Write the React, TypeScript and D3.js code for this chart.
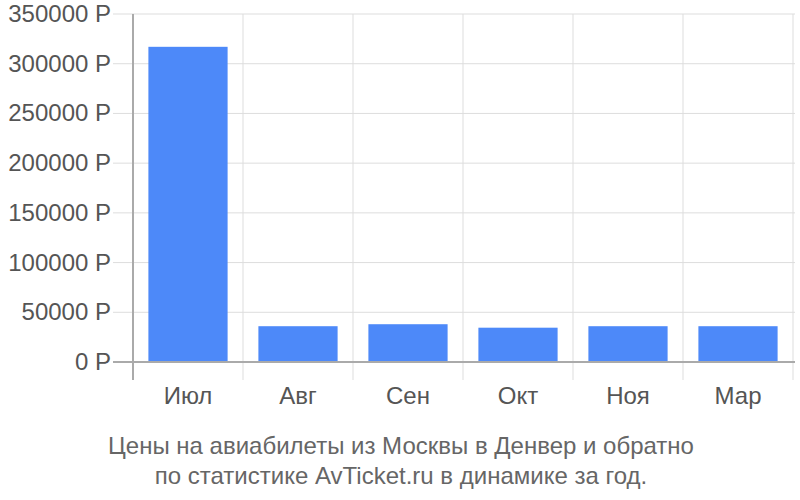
import React, { useEffect, useRef } from 'react';
import * as d3 from 'd3';

const months: string[] = ['Июл', 'Авг', 'Сен', 'Окт', 'Ноя', 'Мар'];
const prices: number[] = [317000, 36000, 38000, 34500, 36000, 36000];
const yTicks: number[] = [0, 50000, 100000, 150000, 200000, 250000, 300000, 350000];
const titleLines: string[] = [
  'Цены на авиабилеты из Москвы в Денвер и обратно',
  'по статистике AvTicket.ru в динамике за год.',
];

const App: React.FC = () => {
  const chartRef = useRef<SVGSVGElement | null>(null);

  useEffect(() => {
    if (!chartRef.current) return;
    const W = 800;
    const H = 500;
    const left = 133;
    const right = 793;
    const top = 14;
    const bottom = 362;
    const font = '"Liberation Sans", Arial, sans-serif';

    const svg = d3.select(chartRef.current);
    svg.selectAll('*').remove();
    svg.attr('width', W).attr('height', H);

    const x = d3.scaleBand<string>().domain(months).range([left, right]).paddingInner(0.28).paddingOuter(0.14);
    const xCat = d3.scaleBand<string>().domain(months).range([left, right]);
    const y = d3.scaleLinear().domain([0, 350000]).range([bottom, top]);

    // horizontal grid
    svg
      .append('g')
      .selectAll('line')
      .data(yTicks.filter((t) => t > 0))
      .enter()
      .append('line')
      .attr('x1', left - 20)
      .attr('x2', 795)
      .attr('y1', (d) => y(d))
      .attr('y2', (d) => y(d))
      .attr('stroke', '#dddddd')
      .attr('stroke-width', 1);

    // vertical grid
    svg
      .append('g')
      .selectAll('line')
      .data(months.slice(1).map((m) => xCat(m) || 0).concat([right]))
      .enter()
      .append('line')
      .attr('x1', (d) => d)
      .attr('x2', (d) => d)
      .attr('y1', top)
      .attr('y2', 380)
      .attr('stroke', '#dddddd')
      .attr('stroke-width', 1);

    // bars
    svg
      .append('g')
      .selectAll('rect')
      .data(months)
      .enter()
      .append('rect')
      .attr('x', (d) => x(d) || 0)
      .attr('width', x.bandwidth())
      .attr('y', (d, i) => y(prices[i]))
      .attr('height', (d, i) => y(0) - y(prices[i]))
      .attr('fill', '#4d89f9');

    // zero line and left axis
    svg
      .append('line')
      .attr('x1', left - 20)
      .attr('x2', 795)
      .attr('y1', y(0))
      .attr('y2', y(0))
      .attr('stroke', '#aaaaaa')
      .attr('stroke-width', 2);
    svg
      .append('line')
      .attr('x1', left)
      .attr('x2', left)
      .attr('y1', top)
      .attr('y2', 380)
      .attr('stroke', '#aaaaaa')
      .attr('stroke-width', 2);

    // y labels
    svg
      .append('g')
      .selectAll('text')
      .data(yTicks)
      .enter()
      .append('text')
      .attr('x', 111)
      .attr('y', (d) => y(d) + 8)
      .attr('text-anchor', 'end')
      .attr('font-family', font)
      .attr('font-size', 24)
      .attr('fill', '#555555')
      .text((d) => `${d} Р`);

    // x labels
    svg
      .append('g')
      .selectAll('text')
      .data(months)
      .enter()
      .append('text')
      .attr('x', (d) => (xCat(d) || 0) + xCat.bandwidth() / 2)
      .attr('y', 404)
      .attr('text-anchor', 'middle')
      .attr('font-family', font)
      .attr('font-size', 24)
      .attr('fill', '#555555')
      .text((d) => d);

    // title
    svg
      .append('g')
      .selectAll('text')
      .data(titleLines)
      .enter()
      .append('text')
      .attr('x', 401)
      .attr('y', (d, i) => 454 + i * 30)
      .attr('text-anchor', 'middle')
      .attr('font-family', font)
      .attr('font-size', 24)
      .attr('fill', '#666666')
      .text((d) => d);
  }, []);

  return <svg ref={chartRef} style={{ position: 'absolute', left: 0, top: 0 }}></svg>;
};

export default App;
